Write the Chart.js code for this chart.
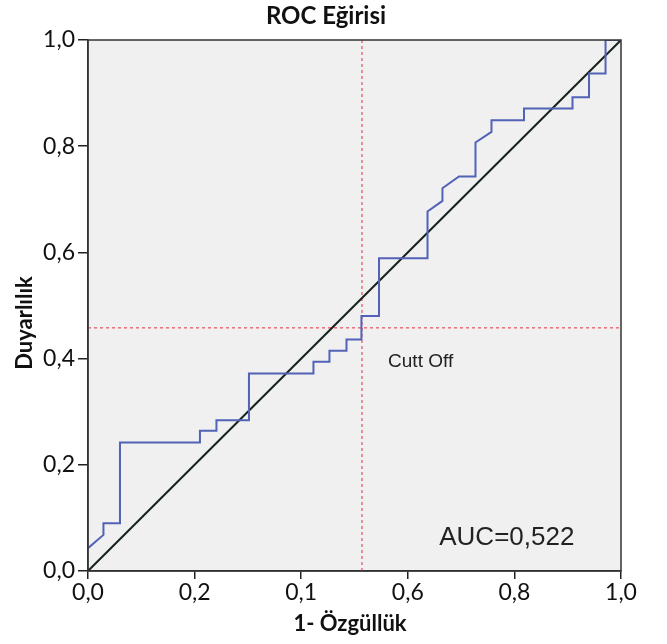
<!DOCTYPE html>
<html>
<head>
<meta charset="utf-8">
<script src="https://cdn.jsdelivr.net/npm/chart.js@4.4.1/dist/chart.umd.min.js"></script>
<style>
  html, body { margin: 0; padding: 0; background: #fff; }
  #wrap { width: 667px; height: 644px; }
</style>
</head>
<body>
<div id="wrap"><canvas id="rocChart" width="667" height="644"></canvas></div>
<script>
// Eğrinin köşe noktaları (1- Özgüllük, Duyarlılık)
const rocX = [0, 0.029, 0.029, 0.060, 0.060, 0.210, 0.210, 0.241, 0.241, 0.302, 0.302, 0.423, 0.423,
              0.453, 0.453, 0.485, 0.485, 0.513, 0.513, 0.546, 0.546, 0.637, 0.637, 0.665, 0.665,
              0.696, 0.727, 0.727, 0.757, 0.757, 0.818, 0.818, 0.909, 0.909, 0.940, 0.940, 0.971, 0.971, 1.0];
const rocY = [0.043, 0.068, 0.090, 0.090, 0.242, 0.242, 0.264, 0.264, 0.284, 0.284, 0.372, 0.372, 0.394,
              0.394, 0.415, 0.415, 0.436, 0.436, 0.480, 0.480, 0.589, 0.589, 0.677, 0.697, 0.721,
              0.743, 0.743, 0.807, 0.827, 0.849, 0.849, 0.871, 0.871, 0.892, 0.892, 0.937, 0.937, 1.0, 1.0];

// Referans çizgisi ve cut off
const refX = [0, 1];
const refY = [0, 1];
const cutOffX = 0.514;
const cutOffY = 0.458;

const xTickLabels = ['0,0', '0,2', '0,1', '0,6', '0,8', '1,0'];
const yTickLabels = ['0,0', '0,2', '0,4', '0,6', '0,8', '1,0'];

const titleText = 'ROC Eğirisi';
const xTitle = '1- Özgüllük';
const yTitle = 'Duyarlılık';
const aucText = 'AUC=0,522';
const cutText = 'Cutt Off';

const labelFont = 'Lato, "Open Sans", sans-serif';
const toPoints = (xs, ys) => xs.map((x, i) => ({ x: x, y: ys[i] }));

// Arka plan, çerçeve ve yazılar
const plotDecor = {
    id: 'plotDecor',
    beforeDraw(chart) {
        const { ctx, chartArea: a } = chart;
        ctx.save();
        ctx.fillStyle = '#f0f0f0';
        ctx.fillRect(a.left, a.top, a.right - a.left, a.bottom - a.top);
        ctx.restore();
    },
    afterDraw(chart) {
        const { ctx, chartArea: a, scales } = chart;
        ctx.save();
        ctx.strokeStyle = '#333';
        ctx.lineWidth = 1.5;
        ctx.strokeRect(a.left, a.top, a.right - a.left, a.bottom - a.top);

        // başlıklar
        ctx.fillStyle = '#111';
        ctx.textAlign = 'center';
        ctx.textBaseline = 'middle';
        ctx.font = 'bold 24px ' + labelFont;
        ctx.fillText(titleText, 326, 16);
        ctx.font = 'bold 22px ' + labelFont;
        ctx.fillText(xTitle, 350, 624);
        ctx.save();
        ctx.translate(25, 323);
        ctx.rotate(-Math.PI / 2);
        ctx.fillText(yTitle, 0, 0);
        ctx.restore();

        // grafik içi notlar
        ctx.fillStyle = '#222';
        ctx.textAlign = 'left';
        ctx.font = '19px "Liberation Sans", Arial, sans-serif';
        ctx.fillText(cutText, scales.x.getPixelForValue(0.563), scales.y.getPixelForValue(0.394));
        ctx.font = '26px "Liberation Sans", Arial, sans-serif';
        ctx.fillText(aucText, scales.x.getPixelForValue(0.659), scales.y.getPixelForValue(0.062));
        ctx.restore();
    }
};

new Chart(document.getElementById('rocChart'), {
    type: 'scatter',
    data: {
        datasets: [
            {
                label: 'ROC',
                data: toPoints(rocX, rocY),
                showLine: true,
                borderColor: '#5262b6',
                borderWidth: 2,
                pointRadius: 0,
                tension: 0
            },
            {
                label: 'Referans',
                data: toPoints(refX, refY),
                showLine: true,
                borderColor: '#15231b',
                borderWidth: 2,
                pointRadius: 0
            },
            {
                label: 'Cut off dikey',
                data: toPoints([cutOffX, cutOffX], [0, 1]),
                showLine: true,
                borderColor: '#e8707c',
                borderWidth: 1.5,
                borderDash: [3, 3],
                pointRadius: 0
            },
            {
                label: 'Cut off yatay',
                data: toPoints([0, 1], [cutOffY, cutOffY]),
                showLine: true,
                borderColor: '#e8707c',
                borderWidth: 1.5,
                borderDash: [3, 3],
                pointRadius: 0
            }
        ]
    },
    options: {
        responsive: false,
        animation: false,
        layout: { padding: { left: 0, right: 46, top: 40, bottom: 0 } },
        plugins: {
            legend: { display: false },
            tooltip: { enabled: false },
            title: { display: false }
        },
        scales: {
            x: {
                type: 'linear',
                min: 0, max: 1,
                afterFit(scale) { scale.height = 73; },
                border: { display: true, color: '#333', width: 1.5 },
                grid: { drawOnChartArea: false, color: '#222', tickLength: 8, lineWidth: 1.5 },
                ticks: {
                    stepSize: 0.2,
                    color: '#111',
                    padding: 0,
                    font: { family: labelFont, size: 23 },
                    callback: (v) => xTickLabels[Math.round(v * 5)]
                }
            },
            y: {
                type: 'linear',
                min: 0, max: 1,
                afterFit(scale) { scale.width = 88; },
                border: { display: true, color: '#333', width: 1.5 },
                grid: { drawOnChartArea: false, color: '#222', tickLength: 10, lineWidth: 1.5 },
                ticks: {
                    stepSize: 0.2,
                    color: '#111',
                    padding: 3,
                    font: { family: labelFont, size: 23 },
                    callback: (v) => yTickLabels[Math.round(v * 5)]
                }
            }
        }
    },
    plugins: [plotDecor]
});
</script>
</body>
</html>
